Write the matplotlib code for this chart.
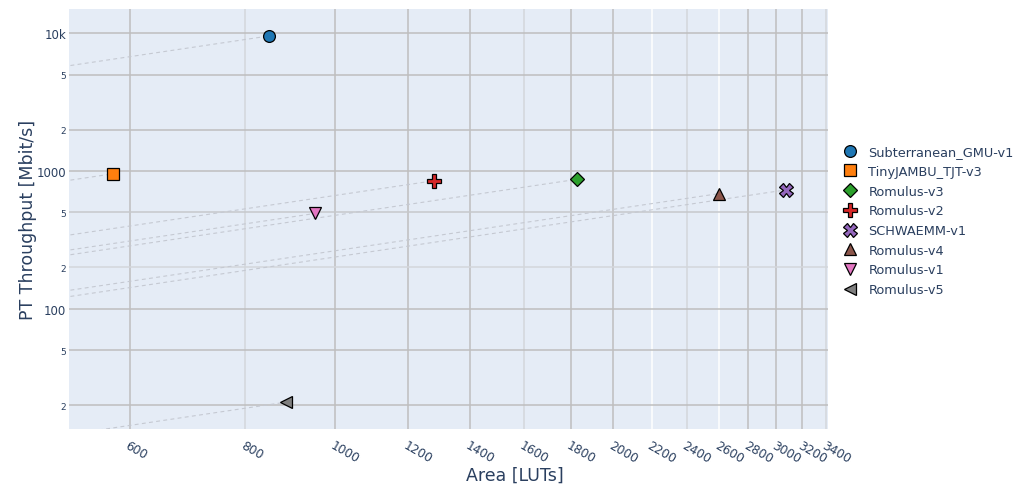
"""Throughput vs. area for the LWC candidate cores, log-log, with
dashed constant-efficiency (throughput/area) guides through the origin.

  python plot.py  ->  out.png
"""

import matplotlib
matplotlib.use("Agg")
import matplotlib.pyplot as plt
import numpy as np
from matplotlib.ticker import FixedLocator, FixedFormatter, NullLocator

# values
names = ["Subterranean_GMU-v1", "TinyJAMBU_TJT-v3", "Romulus-v3", "Romulus-v2",
         "SCHWAEMM-v1", "Romulus-v4", "Romulus-v1", "Romulus-v5"]
area = [848, 576, 1826, 1280, 3076, 2600, 952, 886]
throughput = [9550, 955, 870, 850, 730, 685, 492, 21]

colors = ["#1f77b4", "#ff7f0e", "#2ca02c", "#d62728",
          "#9467bd", "#8c564b", "#e377c2", "#7f7f7f"]
markers = ["o", "s", "D", "P", "X", "^", "v", "<"]
sizes = [8.5, 8, 7.5, 9.5, 9.5, 8, 8, 8]

x_ticks = [600, 800, 1000, 1200, 1400, 1600, 1800, 2000,
           2200, 2400, 2600, 2800, 3000, 3200, 3400]
y_ticks = [20, 50, 100, 200, 500, 1000, 2000, 5000, 10000]
y_labels = ["2", "5", "100", "2", "5", "1000", "2", "5", "10k"]
y_major = [100, 1000, 10000]

GRID = "#bebebe"
GRID_LIGHT = "#d3d6db"
# per-line grid shade as rendered in the reference
x_grid_shade = {800: GRID_LIGHT, 1600: GRID_LIGHT, 2200: "white",
                2400: GRID_LIGHT, 2600: "white", 3400: GRID_LIGHT}
y_grid_shade = {200: GRID_LIGHT, 500: "#c6c8cc"}

TEXT = "#2a3f5f"
plt.rcParams["font.family"] = ["DejaVu Sans"]

fig = plt.figure(figsize=(10.16, 4.89), dpi=100)
ax = fig.add_axes([69 / 1016, 1 - 430 / 489, 759 / 1016, 420 / 489])
ax.set_facecolor("#e5ecf6")
for s in ax.spines.values():
    s.set_visible(False)

ax.set_xscale("log")
ax.set_yscale("log")
ax.set_xlim(516, 3413)
ax.set_ylim(13.4, 15000)

# grid
for v in x_ticks:
    ax.axvline(v, color=x_grid_shade.get(v, GRID), lw=1.1, zorder=0.5)
for v in y_ticks:
    ax.axhline(v, color=y_grid_shade.get(v, GRID), lw=1.1, zorder=0.5)

# constant-efficiency guides: y = (T/A) * x, from far left up to the point
for a, t in zip(area, throughput):
    xs = np.array([a / 50.0, a])
    ax.plot(xs, t / a * xs, color="#c5c9d2", lw=0.8, ls=(0, (3.5, 3)),
            zorder=1)

for n, a, t, c, m, ms in zip(names, area, throughput, colors, markers, sizes):
    ax.plot([a], [t], ls="none", marker=m, ms=ms, color=c, mec="black",
            mew=0.9, label=n, zorder=3)

ax.xaxis.set_major_locator(FixedLocator(x_ticks))
ax.xaxis.set_major_formatter(FixedFormatter([str(v) for v in x_ticks]))
ax.xaxis.set_minor_locator(NullLocator())
ax.yaxis.set_major_locator(FixedLocator(y_ticks))
ax.yaxis.set_major_formatter(FixedFormatter(y_labels))
ax.yaxis.set_minor_locator(NullLocator())
ax.tick_params(axis="both", length=0, colors=TEXT)
ax.tick_params(axis="y", pad=2)
ax.tick_params(axis="x", pad=7)

for lab in ax.get_xticklabels():
    lab.set_rotation(-30)
    lab.set_rotation_mode("anchor")
    lab.set_ha("left")
    lab.set_va("top")
    lab.set_fontsize(8.8)
for v, lab in zip(y_ticks, ax.get_yticklabels()):
    lab.set_fontsize(8.5 if v in y_major else 6.5)

ax.set_xlabel("Area [LUTs]", fontsize=12.5, color=TEXT, va="center")
ax.set_ylabel("PT Throughput [Mbit/s]", fontsize=12.5, color=TEXT,
              va="center", ha="center")
ax.xaxis.set_label_coords(446 / 759, -(476 - 430) / 420)
ax.yaxis.set_label_coords(-(69 - 28) / 759, (430 - 220) / 420)

leg = ax.legend(loc="upper left", bbox_to_anchor=(838 / 1016, 1 - 141 / 489),
                bbox_transform=fig.transFigure, frameon=False, fontsize=9.3,
                handlelength=1.0, handletextpad=0.95, labelspacing=0.52,
                borderaxespad=0)
for t in leg.get_texts():
    t.set_color(TEXT)

fig.savefig("out.png", dpi=100)
